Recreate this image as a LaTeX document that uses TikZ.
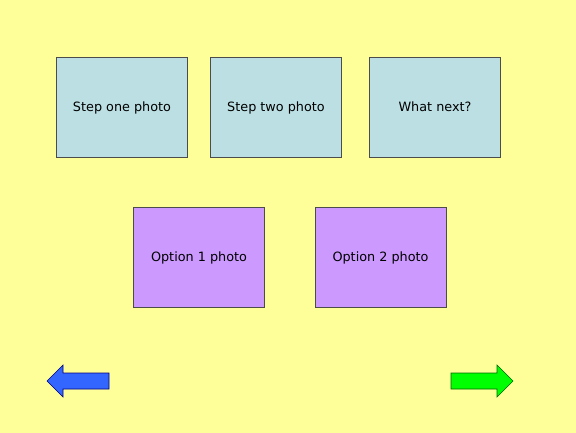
\documentclass[tikz,border=0pt]{standalone}
\usepackage{fontspec}
\setmainfont{DejaVu Sans}
\definecolor{bgyellow}{HTML}{FFFF99}
\definecolor{stepblue}{HTML}{BBDFE3}
\definecolor{optpurple}{HTML}{CC99FF}
\definecolor{navblue}{HTML}{3366FF}
\definecolor{navgreen}{HTML}{00FF00}
% label text sits with its baseline just below the box centre
\newcommand{\photolabel}[1]{\raisebox{-5pt}[0pt][0pt]{#1}}
\tikzset{
  photobox/.style={draw=black!70, line width=0.6pt, minimum width=131pt, minimum height=100pt, inner sep=0pt, font=\fontsize{12.8}{15}\selectfont},
  stepbox/.style={photobox, fill=stepblue},
  optbox/.style={photobox, fill=optpurple},
}
\begin{document}
\begin{tikzpicture}[x=1pt, y=-1pt]
  \fill[bgyellow] (0,0) rectangle (576,433);
  \useasboundingbox (0,0) rectangle (576,433);
  % step photos
  \node[stepbox] (s1) at (122,107) {\photolabel{Step one photo}};
  \node[stepbox] (s2) at (276,107) {\photolabel{Step two photo}};
  \node[stepbox] (s3) at (435,107) {\photolabel{What next?}};
  % option photos
  \node[optbox] (o1) at (199,257) {\photolabel{Option 1 photo}};
  \node[optbox] (o2) at (380.5,257) {\photolabel{Option 2 photo}};
  % navigation arrows
  \draw[fill=navblue, draw=blue!50!black, line width=0.6pt]
    (47,381) -- (63,365) -- (63,373) -- (109,373) -- (109,389) -- (63,389) -- (63,397) -- cycle;
  \draw[fill=navgreen, draw=green!40!black, line width=0.6pt]
    (513,381) -- (497,365) -- (497,373) -- (451,373) -- (451,389) -- (497,389) -- (497,397) -- cycle;
\end{tikzpicture}
\end{document}
